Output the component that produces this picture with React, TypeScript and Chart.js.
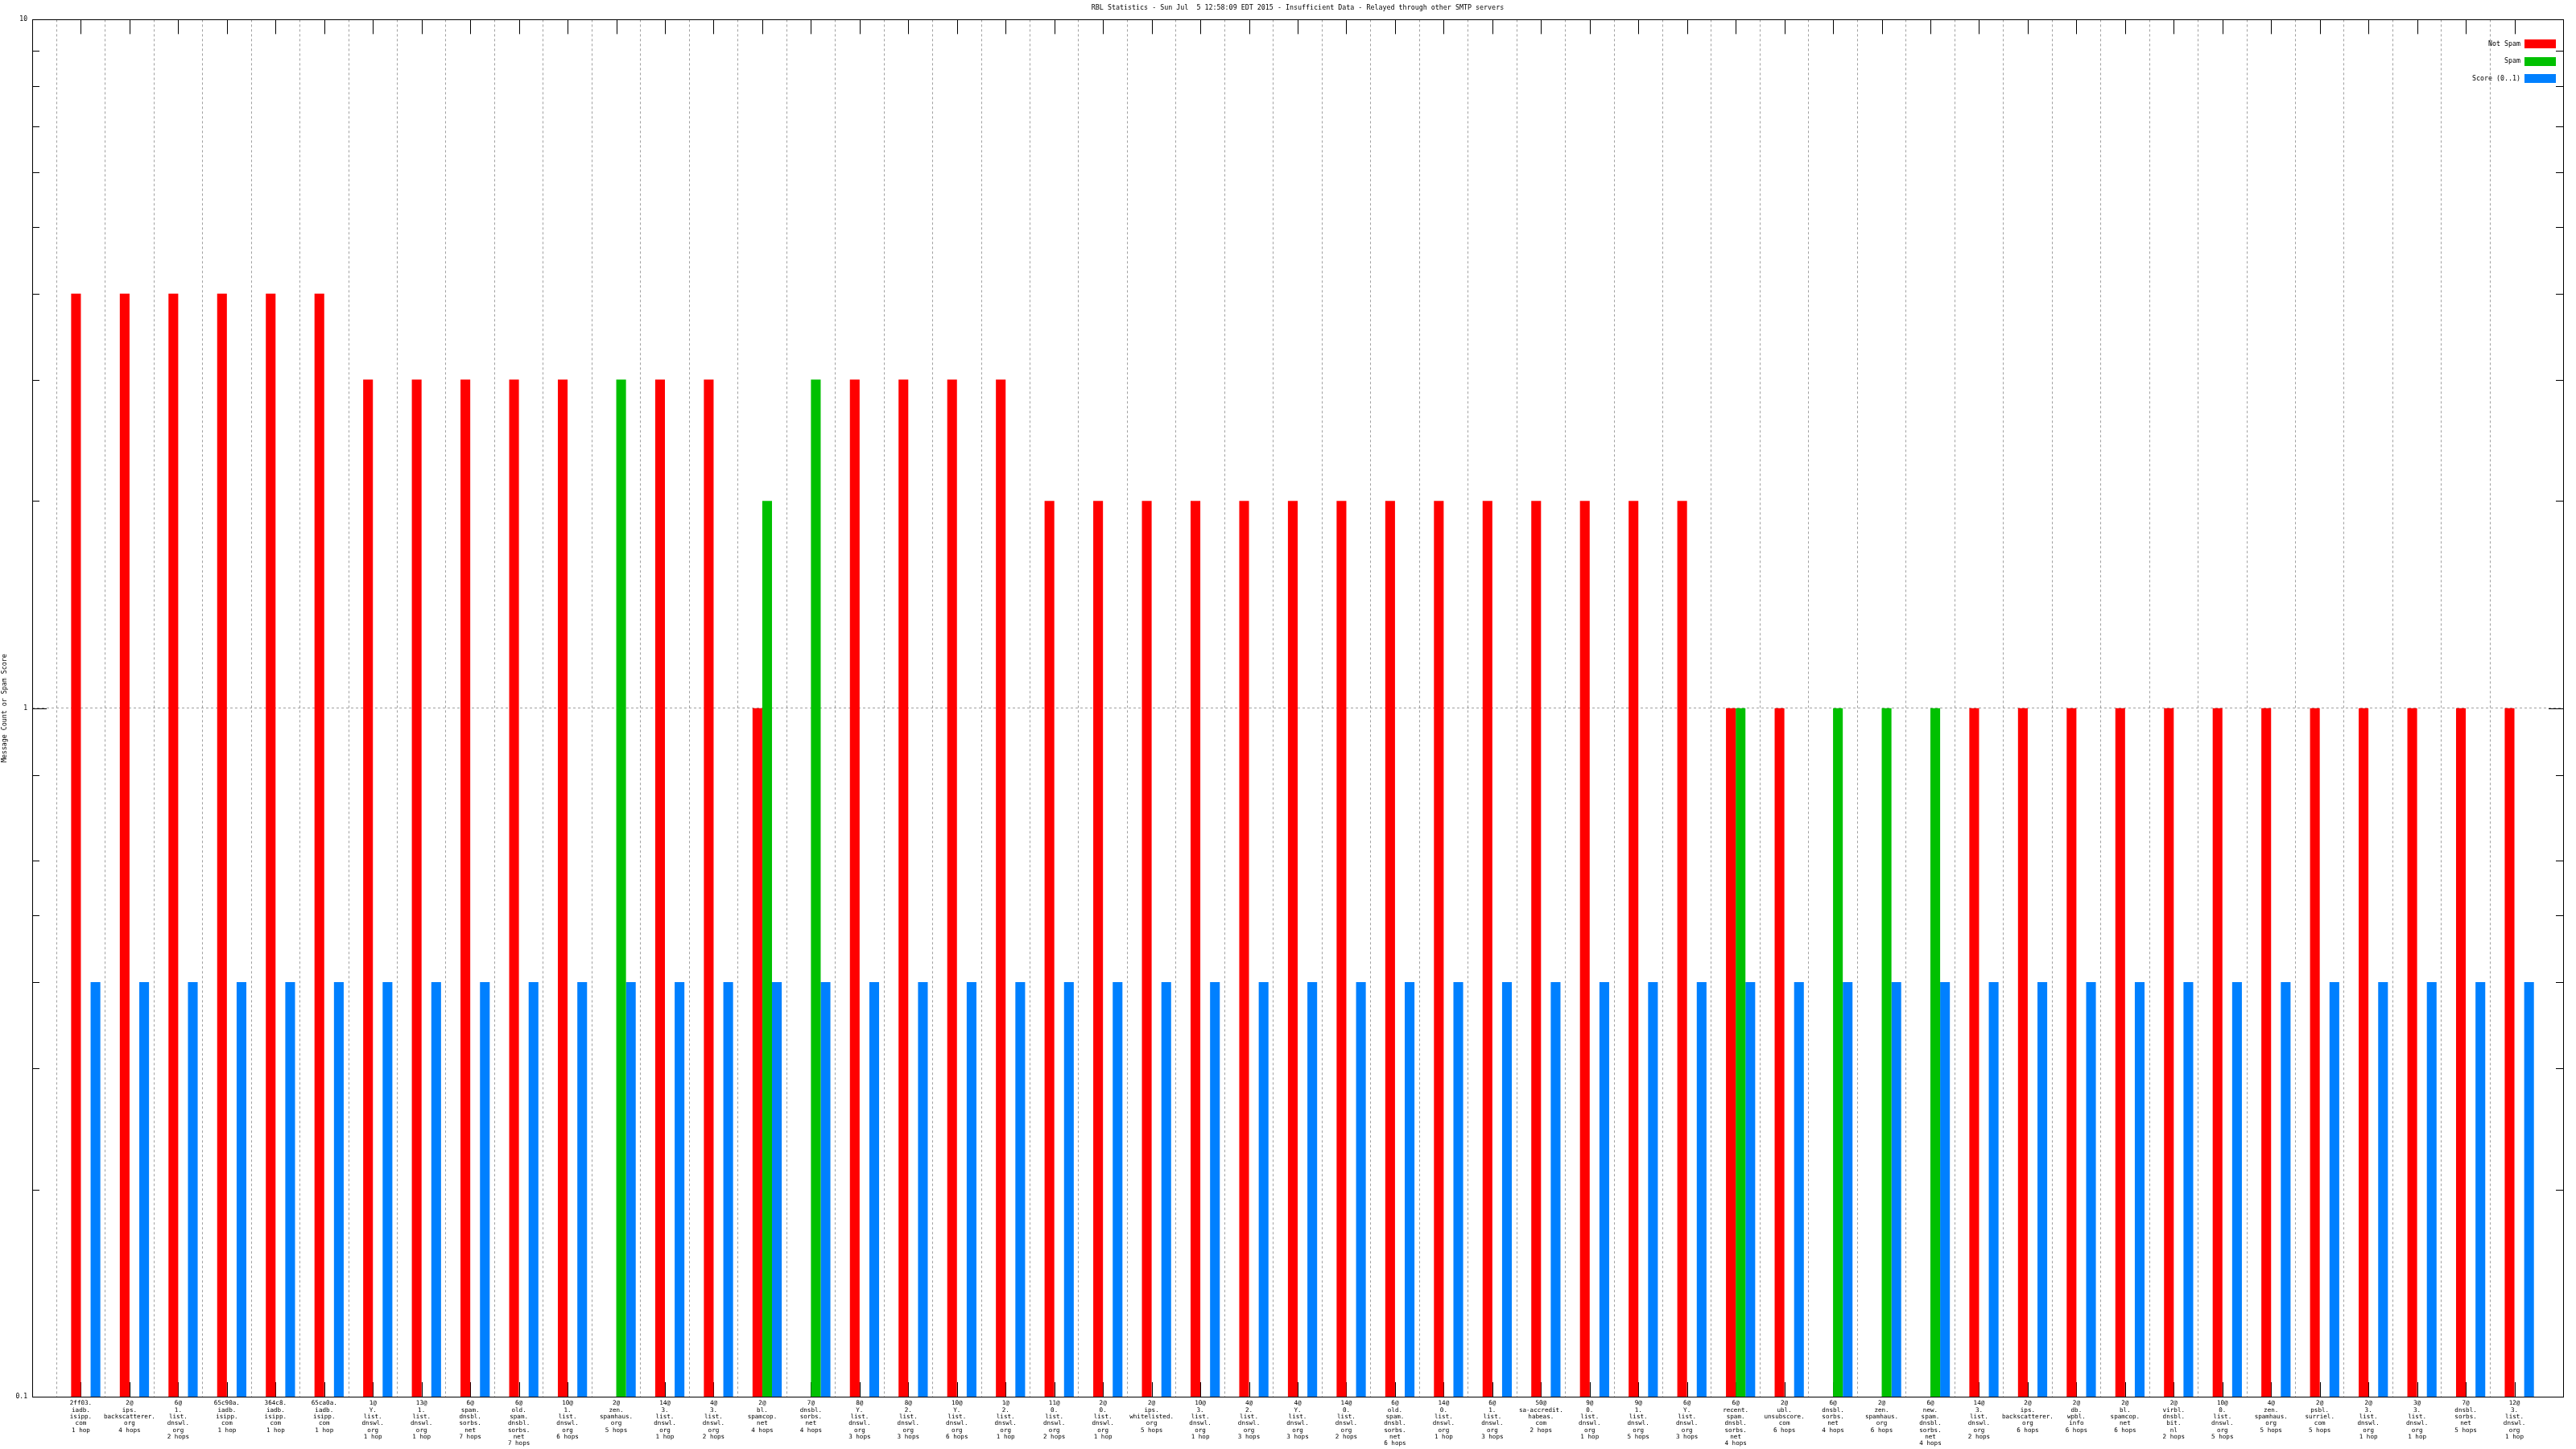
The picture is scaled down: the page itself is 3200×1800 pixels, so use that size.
import React, { useEffect, useRef } from "react";
import { Chart, registerables } from "chart.js";

Chart.register(...registerables);

const MONO = "'DejaVu Sans Mono', monospace";

const TITLE =
  "RBL Statistics - Sun Jul  5 12:58:09 EDT 2015 - Insufficient Data - Relayed through other SMTP servers";
const Y_TITLE = "Message Count or Spam Score";

const CATEGORIES: string[][] = [
  ["2ff03.", "iadb.", "isipp.", "com", "1 hop"],
  ["2@", "ips.", "backscatterer.", "org", "4 hops"],
  ["6@", "1.", "list.", "dnswl.", "org", "2 hops"],
  ["65c90a.", "iadb.", "isipp.", "com", "1 hop"],
  ["364c8.", "iadb.", "isipp.", "com", "1 hop"],
  ["65ca0a.", "iadb.", "isipp.", "com", "1 hop"],
  ["1@", "Y.", "list.", "dnswl.", "org", "1 hop"],
  ["13@", "1.", "list.", "dnswl.", "org", "1 hop"],
  ["6@", "spam.", "dnsbl.", "sorbs.", "net", "7 hops"],
  ["6@", "old.", "spam.", "dnsbl.", "sorbs.", "net", "7 hops"],
  ["10@", "1.", "list.", "dnswl.", "org", "6 hops"],
  ["2@", "zen.", "spamhaus.", "org", "5 hops"],
  ["14@", "3.", "list.", "dnswl.", "org", "1 hop"],
  ["4@", "3.", "list.", "dnswl.", "org", "2 hops"],
  ["2@", "bl.", "spamcop.", "net", "4 hops"],
  ["7@", "dnsbl.", "sorbs.", "net", "4 hops"],
  ["8@", "Y.", "list.", "dnswl.", "org", "3 hops"],
  ["8@", "2.", "list.", "dnswl.", "org", "3 hops"],
  ["10@", "Y.", "list.", "dnswl.", "org", "6 hops"],
  ["1@", "2.", "list.", "dnswl.", "org", "1 hop"],
  ["11@", "0.", "list.", "dnswl.", "org", "2 hops"],
  ["2@", "0.", "list.", "dnswl.", "org", "1 hop"],
  ["2@", "ips.", "whitelisted.", "org", "5 hops"],
  ["10@", "3.", "list.", "dnswl.", "org", "1 hop"],
  ["4@", "2.", "list.", "dnswl.", "org", "3 hops"],
  ["4@", "Y.", "list.", "dnswl.", "org", "3 hops"],
  ["14@", "0.", "list.", "dnswl.", "org", "2 hops"],
  ["6@", "old.", "spam.", "dnsbl.", "sorbs.", "net", "6 hops"],
  ["14@", "0.", "list.", "dnswl.", "org", "1 hop"],
  ["6@", "1.", "list.", "dnswl.", "org", "3 hops"],
  ["50@", "sa-accredit.", "habeas.", "com", "2 hops"],
  ["9@", "0.", "list.", "dnswl.", "org", "1 hop"],
  ["9@", "1.", "list.", "dnswl.", "org", "5 hops"],
  ["6@", "Y.", "list.", "dnswl.", "org", "3 hops"],
  ["6@", "recent.", "spam.", "dnsbl.", "sorbs.", "net", "4 hops"],
  ["2@", "ubl.", "unsubscore.", "com", "6 hops"],
  ["6@", "dnsbl.", "sorbs.", "net", "4 hops"],
  ["2@", "zen.", "spamhaus.", "org", "6 hops"],
  ["6@", "new.", "spam.", "dnsbl.", "sorbs.", "net", "4 hops"],
  ["14@", "3.", "list.", "dnswl.", "org", "2 hops"],
  ["2@", "ips.", "backscatterer.", "org", "6 hops"],
  ["2@", "db.", "wpbl.", "info", "6 hops"],
  ["2@", "bl.", "spamcop.", "net", "6 hops"],
  ["2@", "virbl.", "dnsbl.", "bit.", "nl", "2 hops"],
  ["10@", "0.", "list.", "dnswl.", "org", "5 hops"],
  ["4@", "zen.", "spamhaus.", "org", "5 hops"],
  ["2@", "psbl.", "surriel.", "com", "5 hops"],
  ["2@", "3.", "list.", "dnswl.", "org", "1 hop"],
  ["3@", "3.", "list.", "dnswl.", "org", "1 hop"],
  ["7@", "dnsbl.", "sorbs.", "net", "5 hops"],
  ["12@", "3.", "list.", "dnswl.", "org", "1 hop"],
];

const NOT_SPAM: (number | null)[] = [
  4, 4, 4, 4, 4, 4, 3, 3, 3, 3, 3, null, 3, 3, 1, null, 3, 3, 3, 3,
  2, 2, 2, 2, 2, 2, 2, 2, 2, 2, 2, 2, 2, 2, 1, 1, null, null, null,
  1, 1, 1, 1, 1, 1, 1, 1, 1, 1, 1, 1,
];

const SPAM: (number | null)[] = [
  null, null, null, null, null, null, null, null, null, null, null, 3, null, null, 2, 3, null, null, null, null,
  null, null, null, null, null, null, null, null, null, null, null, null, null, null, 1, null, 1, 1, 1,
  null, null, null, null, null, null, null, null, null, null, null, null,
];

const SCORE: number[] = [
  0.4, 0.4, 0.4, 0.4, 0.4, 0.4, 0.4, 0.4, 0.4, 0.4, 0.4, 0.4, 0.4, 0.4, 0.4, 0.4, 0.4, 0.4, 0.4, 0.4,
  0.4, 0.4, 0.4, 0.4, 0.4, 0.4, 0.4, 0.4, 0.4, 0.4, 0.4, 0.4, 0.4, 0.4, 0.4, 0.4, 0.4, 0.4, 0.4,
  0.4, 0.4, 0.4, 0.4, 0.4, 0.4, 0.4, 0.4, 0.4, 0.4, 0.4, 0.4,
];

const SERIES_NAMES = ["Not Spam", "Spam", "Score (0..1)"];
const SERIES_COLORS = ["#ff0000", "#00c000", "#0080ff"];

const Y_TICKS = [0.1, 1, 10];
const Y_MINOR = [0.2, 0.3, 0.4, 0.5, 0.6, 0.8, 2, 3, 4, 5, 6, 7, 8, 9];

const pad = <T,>(arr: T[]): (T | null)[] => [null, ...arr, null];

const gnuplotFrame = {
  id: "gnuplotFrame",
  beforeDatasetsDraw(chart: any) {
    const { ctx, chartArea: a, scales } = chart;
    const xs = scales.x;
    const ys = scales.y;
    ctx.save();
    ctx.strokeStyle = "#000";
    ctx.lineWidth = 1;
    ctx.beginPath();
    for (let i = 1; i <= CATEGORIES.length; i++) {
      const px = Math.round(xs.getPixelForValue(i)) + 0.5;
      ctx.moveTo(px, a.bottom);
      ctx.lineTo(px, a.bottom - 18);
      ctx.moveTo(px, a.top);
      ctx.lineTo(px, a.top + 18);
    }
    for (const v of Y_TICKS) {
      const py = Math.round(ys.getPixelForValue(v)) + 0.5;
      ctx.moveTo(a.left, py);
      ctx.lineTo(a.left + 18, py);
      ctx.moveTo(a.right, py);
      ctx.lineTo(a.right - 18, py);
    }
    for (const v of Y_MINOR) {
      const py = Math.round(ys.getPixelForValue(v)) + 0.5;
      ctx.moveTo(a.left, py);
      ctx.lineTo(a.left + 9, py);
      ctx.moveTo(a.right, py);
      ctx.lineTo(a.right - 9, py);
    }
    ctx.stroke();
    ctx.restore();
  },
  afterDraw(chart: any) {
    const { ctx, chartArea: a } = chart;
    ctx.save();
    ctx.strokeStyle = "#000";
    ctx.lineWidth = 1;
    ctx.strokeRect(
      Math.round(a.left) + 0.5,
      Math.round(a.top) + 0.5,
      Math.round(a.right - a.left),
      Math.round(a.bottom - a.top)
    );
    // legend
    ctx.font = `8.3px ${MONO}`;
    ctx.textAlign = "right";
    ctx.textBaseline = "middle";
    ctx.fillStyle = "#000";
    SERIES_NAMES.forEach((name, k) => {
      const cy = a.top + 30 + k * 21.8;
      ctx.fillText(name, a.right - 53, cy);
      ctx.fillStyle = SERIES_COLORS[k];
      ctx.fillRect(a.right - 48, Math.round(cy - 5.5), 39, 11);
      ctx.fillStyle = "#000";
    });
    ctx.restore();
  },
};

export default function App() {
  const ref = useRef<HTMLCanvasElement>(null);

  useEffect(() => {
    if (!ref.current) return;
    const labels = ["", ...CATEGORIES, ""];
    const chart = new Chart(ref.current, {
      type: "bar",
      data: {
        labels,
        datasets: [
          {
            label: "",
            data: pad(NOT_SPAM.map(() => null)),
            backgroundColor: "rgba(0,0,0,0)",
          },
          {
            label: SERIES_NAMES[0],
            data: pad(NOT_SPAM),
            backgroundColor: SERIES_COLORS[0],
          },
          {
            label: SERIES_NAMES[1],
            data: pad(SPAM),
            backgroundColor: SERIES_COLORS[1],
          },
          {
            label: SERIES_NAMES[2],
            data: pad(SCORE),
            backgroundColor: SERIES_COLORS[2],
          },
        ] as any,
      },
      options: {
        responsive: false,
        animation: false,
        devicePixelRatio: 1,
        layout: { padding: { left: 0, right: 16, top: 0, bottom: 0 } },
        datasets: {
          bar: { categoryPercentage: 0.8, barPercentage: 1, borderWidth: 0 },
        },
        plugins: {
          legend: { display: false },
          tooltip: { enabled: false },
          title: {
            display: true,
            fullSize: false,
            text: TITLE,
            color: "#000",
            font: { family: MONO, size: 8.35, weight: "normal", lineHeight: 1 },
            padding: { top: 6, bottom: 10 },
          },
        },
        scales: {
          x: {
            type: "category",
            offset: false,
            grid: {
              display: true,
              drawTicks: false,
              color: (c: any) =>
                c.index === 0 || c.index === CATEGORIES.length + 1 ? "rgba(0,0,0,0)" : "#a0a0a0",
              lineWidth: 1,
            },
            border: { display: false, dash: [3, 3] },
            ticks: {
              autoSkip: false,
              maxRotation: 0,
              minRotation: 0,
              padding: 4,
              color: "#000",
              font: { family: MONO, size: 7.6, lineHeight: 1.1 },
            },
            afterFit: (s: any) => {
              s.height = 65;
            },
          },
          y: {
            type: "logarithmic",
            min: 0.1,
            max: 10,
            afterBuildTicks: (s: any) => {
              s.ticks = Y_TICKS.map((v) => ({ value: v }));
            },
            grid: {
              display: true,
              drawTicks: false,
              color: (c: any) => (c.tick && c.tick.value === 1 ? "#a0a0a0" : "rgba(0,0,0,0)"),
              lineWidth: 1,
            },
            border: { display: false, dash: [3, 3] },
            ticks: {
              padding: 6,
              color: "#000",
              font: { family: MONO, size: 8 },
              callback: (v: any) => String(v),
            },
            title: {
              display: true,
              text: Y_TITLE,
              color: "#000",
              font: { family: MONO, size: 8.3, lineHeight: 1.2 },
              padding: { top: 1.3, bottom: 0 },
            },
            afterFit: (s: any) => {
              s.width = 40;
            },
          },
        },
      },
      plugins: [gnuplotFrame],
    } as any);
    return () => chart.destroy();
  }, []);

  return (
    <div
      style={{
        position: "fixed",
        left: 0,
        top: 0,
        width: 3200,
        height: 1800,
        background: "#fff",
      }}
    >
      <canvas ref={ref} width={3200} height={1800} style={{ width: 3200, height: 1800, display: "block" }} />
    </div>
  );
}
